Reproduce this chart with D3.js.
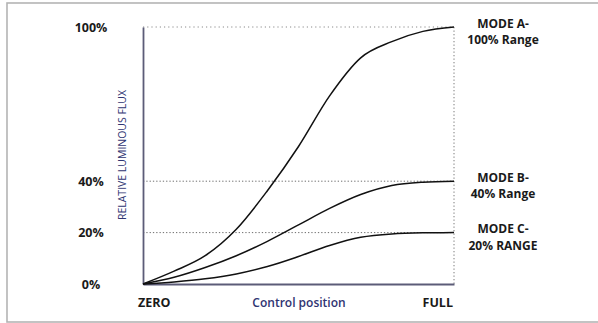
<!DOCTYPE html>
<html>
<head>
<meta charset="utf-8">
<script src="https://cdn.jsdelivr.net/npm/d3@7"></script>
<style>
  html, body { margin: 0; padding: 0; background: #fff; }
  svg { display: block; }
  text { font-family: "Open Sans", "DejaVu Sans", sans-serif; }
</style>
</head>
<body>
<script>
// Control position (% of travel) and relative luminous flux (%) for each dimming mode
const controlPos = [0, 10, 20, 30, 40, 50, 60, 70, 80, 90, 100];
const modeA = [0, 5.0, 11.0, 21.3, 36.3, 53.5, 73.2, 88.0, 94.3, 98.3, 100];
const modeB = [0, 2.6, 6.4, 11.0, 16.6, 23.0, 29.4, 34.8, 38.3, 39.6, 40];
const modeC = [0, 0.8, 2.0, 3.9, 6.8, 10.7, 15.0, 18.2, 19.5, 19.9, 20];

const yTicks = [0, 20, 40, 100];
const yTickLabels = ["0%", "20%", "40%", "100%"];
const guideLevels = [100, 40, 20];
const modeNames = ["MODE A-", "MODE B-", "MODE C-"];
const modeRanges = ["100% Range", "40% Range", "20% RANGE"];
const modeEnds = [100, 40, 20];
const xLabels = ["ZERO", "FULL"];
const xTitle = "Control position";
const yTitle = "RELATIVE LUMINOUS FLUX";

const W = 598, H = 323;
const svg = d3.select("body").append("svg").attr("width", W).attr("height", H);

// frame
svg.append("rect")
  .attr("x", 7).attr("y", 3).attr("width", 600).attr("height", 319)
  .attr("fill", "#fff").attr("stroke", "#b4b4b4").attr("stroke-width", 1.6);

const x = d3.scaleLinear().domain([0, 100]).range([143, 454]);
const y = d3.scaleLinear().domain([0, 100]).range([284, 27]);

// dotted guide lines at each mode's ceiling
svg.append("g").selectAll("line").data(guideLevels).join("line")
  .attr("x1", x(0)).attr("x2", x(100))
  .attr("y1", d => y(d)).attr("y2", d => y(d))
  .attr("stroke", d => d === 100 ? "#8a8a8a" : "#6e6e6e").attr("stroke-width", 1)
  .attr("stroke-dasharray", d => d === 100 ? "1.2,3" : "1.3,2");

// dotted line at full control position
svg.append("line")
  .attr("x1", x(100)).attr("x2", x(100))
  .attr("y1", y(100)).attr("y2", y(0))
  .attr("stroke", "#7a7a7a").attr("stroke-width", 1)
  .attr("stroke-dasharray", "1.3,2.2");

// axes
const yAxis = d3.axisLeft(y).tickValues(yTicks).tickSize(0).tickSizeOuter(0)
  .tickFormat((d, i) => yTickLabels[i]);
const gy = svg.append("g").attr("transform", `translate(${x(0)},0)`).call(yAxis);
gy.select(".domain").attr("stroke", "#5c5c78").attr("stroke-width", 1.8);
gy.selectAll(".tick text")
  .attr("x", -52).attr("dy", "0.32em")
  .attr("text-anchor", "middle")
  .attr("fill", "#1a1a1a")
  .style("font-size", "12.5px").style("font-weight", "700")
  .style("font-family", "'Open Sans', sans-serif");

const xAxis = d3.axisBottom(x).tickValues([]).tickSize(0).tickSizeOuter(0);
const gx = svg.append("g").attr("transform", `translate(0,${y(0)})`).call(xAxis);
gx.select(".domain").attr("stroke", "#5c5c78").attr("stroke-width", 1.8);

// x end labels
svg.append("text").text(xLabels[0])
  .attr("x", x(0) - 5).attr("y", 307)
  .attr("fill", "#1a1a1a").style("font-size", "12.5px").style("font-weight", "700");
svg.append("text").text(xLabels[1])
  .attr("x", x(100) - 1).attr("y", 307).attr("text-anchor", "end")
  .attr("fill", "#1a1a1a").style("font-size", "12.5px").style("font-weight", "700");

// axis titles
svg.append("text").text(xTitle)
  .attr("x", 299).attr("y", 307).attr("text-anchor", "middle")
  .attr("fill", "#2f3472").style("font-size", "12px").style("font-weight", "600");
svg.append("text").text(yTitle)
  .attr("transform", "translate(126,155) rotate(-90)")
  .attr("text-anchor", "middle")
  .attr("textLength", 130).attr("lengthAdjust", "spacingAndGlyphs")
  .attr("fill", "#2f3472").style("font-size", "11.5px");

// curves
const line = d3.line().x(d => x(d[0])).y(d => y(d[1])).curve(d3.curveMonotoneX);
const series = [modeA, modeB, modeC].map(s => d3.zip(controlPos, s));
svg.append("g").selectAll("path").data(series).join("path")
  .attr("d", line)
  .attr("fill", "none").attr("stroke", "#111").attr("stroke-width", 1.5);

// mode labels on the right, two lines each
const lab = svg.append("g").selectAll("text").data(modeEnds).join("text")
  .attr("transform", d => `translate(${x(100) + 49},${y(d) + 0.5})`)
  .attr("text-anchor", "middle").attr("fill", "#1a1a1a")
  .style("font-size", "12px").style("font-weight", "700");
lab.append("tspan").attr("x", 0).attr("dy", 0).text((d, i) => modeNames[i]);
lab.append("tspan").attr("x", 0).attr("dy", 16.5).text((d, i) => modeRanges[i]);
</script>
</body>
</html>
